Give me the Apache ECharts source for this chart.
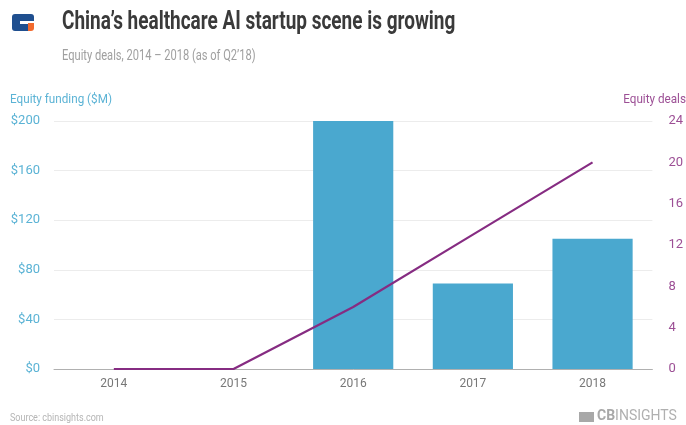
<!DOCTYPE html>
<html><head><meta charset="utf-8">
<script src="https://cdn.jsdelivr.net/npm/echarts@6/dist/echarts.min.js"></script>
<style>html,body{margin:0;padding:0;background:#fff}#c{width:686px;height:425px}</style>
</head><body><div id="c"></div>
<script>
const years = ['2014','2015','2016','2017','2018'];
const funding = [0, 0, 200, 69, 105];
const deals = [0, 0, 6, 13, 20];
const leftTicks = [0, 40, 80, 120, 160, 200];
const rightTicks = [0, 4, 8, 12, 16, 20, 24];

const cond = '"Roboto", sans-serif';
const chart = echarts.init(document.getElementById('c'));
chart.setOption({
  backgroundColor: '#fff',
  animation: false,
  grid: {left: 54, right: 31, top: 121, bottom: 56},
  graphic: [
    {type:'rect', shape:{x:12,y:14,width:16,height:17,r:[3,0,0,3]}, style:{fill:'#1f4f8f'}},
    {type:'rect', shape:{x:28,y:14,width:6,height:7,r:[0,3,0,0]}, style:{fill:'#1f4f8f'}},
    {type:'rect', shape:{x:28,y:23,width:6,height:8,r:[0,0,3,0]}, style:{fill:'#f26a2e'}},
    {type:'rect', shape:{x:20,y:21,width:8,height:3}, style:{fill:'#fff'}},
    {type:'text', x:62, y:9, scaleX:0.73, style:{text:'China\u2019s healthcare AI startup scene is growing', font:'bold 26px ' + cond, fill:'#3a3a3a', verticalAlign:'top'}},
    {type:'text', x:62, y:49, scaleX:0.74, style:{text:'Equity deals, 2014 \u2013 2018 (as of Q2\u201918)', font:'15px ' + cond, fill:'#a0a0a0', verticalAlign:'top'}},
    {type:'text', x:10, y:93, scaleX:0.9, style:{text:'Equity funding ($M)', font:'13px ' + cond, fill:'#5bb3d5', verticalAlign:'top'}},
    {type:'text', x:686, y:93, scaleX:0.9, style:{text:'Equity deals', font:'13px ' + cond, fill:'#9c4f95', align:'right', verticalAlign:'top'}},
    {type:'text', x:10, y:413, scaleX:0.9, style:{text:'Source: cbinsights.com', font:'10px ' + cond, fill:'#b5b5b5', verticalAlign:'top'}},
    {type:'rect', shape:{x:579,y:412,width:15,height:10}, style:{fill:'#a8a8a8'}},
    {type:'text', x:597, y:409, style:{text:'{b|CB}{n|INSIGHTS}', verticalAlign:'top', rich:{b:{font:'bold 14px ' + cond, fill:'#a8a8a8'}, n:{font:'14px ' + cond, fill:'#b0b0b0'}}}}
  ],
  xAxis: {
    type:'category', data: years,
    axisLine:{lineStyle:{color:'#b0b0b0'}},
    axisTick:{show:false},
    axisLabel:{color:'#777', fontSize:12, fontFamily:cond, margin:9}
  },
  yAxis: [
    {type:'value', min:0, max:200, interval:40,
     axisLabel:{color:'#5bb3d5', fontSize:13, fontFamily:cond, margin:14, formatter: v => '$' + v},
     splitLine:{lineStyle:{color:'#ececec'}}, axisLine:{show:false}, axisTick:{show:false}},
    {type:'value', min:0, max:24, interval:4,
     axisLabel:{color:'#9c4f95', fontSize:13, fontFamily:cond, margin:16},
     splitLine:{show:false}, axisLine:{show:false}, axisTick:{show:false}}
  ],
  series: [
    {type:'bar', data: funding, yAxisIndex:0, barWidth:'67%', itemStyle:{color:'#4aa8cf'}},
    {type:'line', data: deals, yAxisIndex:1, smooth:false, symbol:'none', lineStyle:{color:'#862c82', width:2.2}}
  ]
});
</script></body></html>
